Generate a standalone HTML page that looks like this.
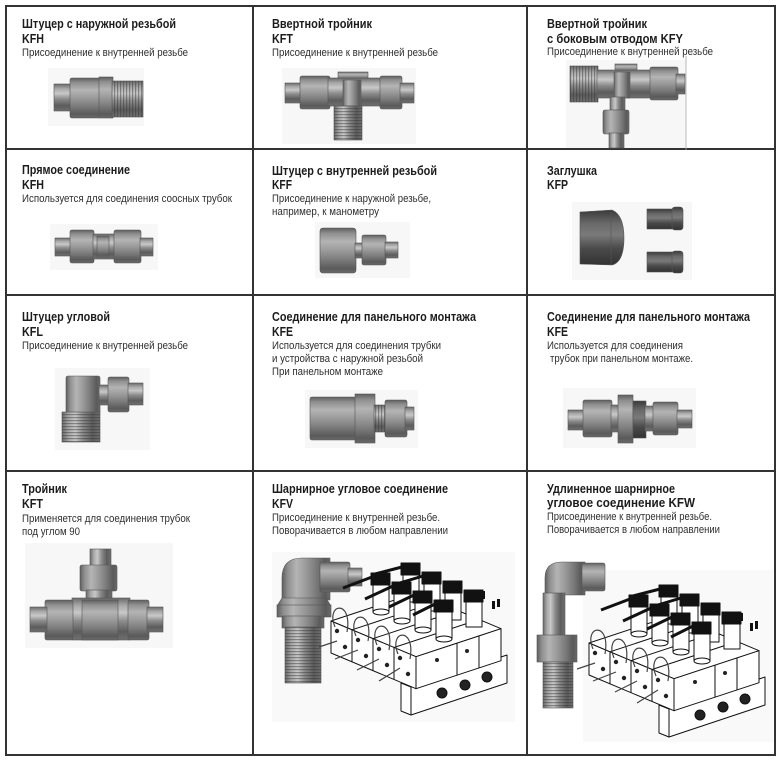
<!DOCTYPE html>
<html><head><meta charset="utf-8">
<style>
html,body{margin:0;padding:0;background:#fff}
svg{display:block}
.t{font-family:"Liberation Sans",sans-serif;font-weight:bold;font-size:12.5px;fill:#1c1c1c}
.d{font-family:"Liberation Sans",sans-serif;font-size:11px;fill:#2e2e2e}
</style></head>
<body>
<svg width="781" height="762" viewBox="0 0 781 762" xmlns="http://www.w3.org/2000/svg">
<defs>
<linearGradient id="gh" x1="0" y1="0" x2="0" y2="1">
<stop offset="0" stop-color="#6a6a6a"/><stop offset=".18" stop-color="#a9a9a9"/><stop offset=".35" stop-color="#c8c8c8"/><stop offset=".55" stop-color="#8c8c8c"/><stop offset=".8" stop-color="#5c5c5c"/><stop offset="1" stop-color="#707070"/>
</linearGradient>
<linearGradient id="gv" x1="0" y1="0" x2="1" y2="0">
<stop offset="0" stop-color="#6a6a6a"/><stop offset=".18" stop-color="#a9a9a9"/><stop offset=".35" stop-color="#c8c8c8"/><stop offset=".55" stop-color="#8c8c8c"/><stop offset=".8" stop-color="#5c5c5c"/><stop offset="1" stop-color="#707070"/>
</linearGradient>
<linearGradient id="gn" x1="0" y1="0" x2="0" y2="1">
<stop offset="0" stop-color="#5e5e5e"/><stop offset=".12" stop-color="#8f8f8f"/><stop offset=".3" stop-color="#b4b4b4"/><stop offset=".5" stop-color="#9a9a9a"/><stop offset=".7" stop-color="#7c7c7c"/><stop offset=".9" stop-color="#5a5a5a"/><stop offset="1" stop-color="#6a6a6a"/>
</linearGradient>
<linearGradient id="gnv" x1="0" y1="0" x2="1" y2="0">
<stop offset="0" stop-color="#5e5e5e"/><stop offset=".12" stop-color="#8f8f8f"/><stop offset=".3" stop-color="#b4b4b4"/><stop offset=".5" stop-color="#9a9a9a"/><stop offset=".7" stop-color="#7c7c7c"/><stop offset=".9" stop-color="#5a5a5a"/><stop offset="1" stop-color="#6a6a6a"/>
</linearGradient>
<linearGradient id="gd" x1="0" y1="0" x2="0" y2="1">
<stop offset="0" stop-color="#3a3a3a"/><stop offset=".25" stop-color="#6a6a6a"/><stop offset=".45" stop-color="#7a7a7a"/><stop offset=".7" stop-color="#4a4a4a"/><stop offset="1" stop-color="#333"/>
</linearGradient>
<pattern id="tv" width="3" height="60" patternUnits="userSpaceOnUse"><rect x="0" y="0" width="1.2" height="60" fill="#333" opacity=".45"/></pattern>
<pattern id="th" width="60" height="3" patternUnits="userSpaceOnUse"><rect x="0" y="0" width="60" height="1.2" fill="#333" opacity=".45"/></pattern>

<g id="man" stroke="#111" stroke-width="1" fill="#fff" stroke-linejoin="round">
  <polygon points="74,128 84,132 84,160 74,156"/>
  <polygon points="84,132 180,100 180,128 84,160"/>
  <circle cx="115" cy="138" r="5" fill="#222"/>
  <circle cx="138" cy="130" r="5" fill="#222"/>
  <circle cx="160" cy="122" r="5" fill="#222"/>
  <polygon points="4,66 89,101.7 174,73.7 89,38"/>
  <polygon points="4,66 89,101.7 89,133.7 4,98"/>
  <polygon points="89,101.7 174,73.7 174,105.7 89,133.7"/>
  <g fill="none">
    <line x1="25" y1="74.8" x2="25" y2="106.8"/>
    <line x1="46" y1="83.6" x2="46" y2="115.6"/>
    <line x1="67" y1="92.5" x2="67" y2="124.5"/>
    <line x1="25" y1="74.8" x2="110" y2="46.8"/>
    <line x1="46" y1="83.6" x2="131" y2="55.6"/>
    <line x1="67" y1="92.5" x2="152" y2="64.5"/>
    <line x1="130" y1="88" x2="130" y2="120"/>
    <line x1="152" y1="81" x2="152" y2="113"/>
  </g>
  <g fill="#222" stroke="none">
    <circle cx="10" cy="76" r="2.2"/><circle cx="18" cy="92" r="2.2"/>
    <circle cx="31" cy="85" r="2.2"/><circle cx="39" cy="101" r="2.2"/>
    <circle cx="52" cy="94" r="2.2"/><circle cx="60" cy="110" r="2.2"/>
    <circle cx="73" cy="103" r="2.2"/><circle cx="81" cy="119" r="2.2"/>
    <circle cx="110" cy="105" r="2"/><circle cx="140" cy="96" r="2"/>
  </g>
  <g fill="none" stroke="#444" stroke-width="1.2">
    <path d="M8,72 C-2,48 26,44 20,77"/>
    <path d="M29,81 C19,57 47,53 41,86"/>
    <path d="M50,90 C40,66 68,62 62,95"/>
    <path d="M71,99 C61,75 89,71 83,104"/>
    <path d="M10,86 L-8,92"/>
    <path d="M31,95 L8,104"/>
    <path d="M52,104 L30,115"/>
    <path d="M73,113 L52,126"/>
  </g>
  <g>
    <rect x="76" y="19" width="16" height="28"/><rect x="74" y="8" width="19" height="12" fill="#111"/>
    <rect x="97" y="28" width="16" height="28"/><rect x="95" y="17" width="19" height="12" fill="#111"/>
    <rect x="118" y="37" width="16" height="28"/><rect x="116" y="26" width="19" height="12" fill="#111"/>
    <rect x="139" y="46" width="16" height="26"/><rect x="137" y="35" width="19" height="12" fill="#111"/>
  </g>
  <g stroke="#111" stroke-width="3" fill="none">
    <line x1="75" y1="12" x2="44" y2="20"/>
    <line x1="96" y1="21" x2="66" y2="30"/>
  </g>
  <g>
    <rect x="46" y="29" width="16" height="28"/><rect x="44" y="18" width="19" height="12" fill="#111"/>
    <rect x="67" y="38" width="16" height="28"/><rect x="65" y="27" width="19" height="12" fill="#111"/>
    <rect x="88" y="47" width="16" height="28"/><rect x="86" y="36" width="19" height="12" fill="#111"/>
    <rect x="109" y="56" width="16" height="28"/><rect x="107" y="45" width="19" height="12" fill="#111"/>
    <ellipse cx="54" cy="57" rx="8" ry="3"/><ellipse cx="75" cy="66" rx="8" ry="3"/>
    <ellipse cx="96" cy="75" rx="8" ry="3"/><ellipse cx="117" cy="84" rx="8" ry="3"/>
  </g>
  <g stroke="#111" stroke-width="3" fill="none">
    <line x1="45" y1="22" x2="16" y2="33"/>
    <line x1="66" y1="31" x2="38" y2="44"/>
    <line x1="87" y1="40" x2="62" y2="52"/>
    <line x1="108" y1="49" x2="86" y2="60"/>
  </g>
  <g fill="#111" stroke="none">
    <rect x="150" y="38" width="3" height="8"/><rect x="155" y="36" width="3" height="8"/>
    <rect x="165" y="46" width="3" height="8"/><rect x="170" y="44" width="3" height="8"/>
  </g>
</g>
</defs>

<g fill="#f7f7f7">
<rect x="48" y="68" width="96" height="58"/>
<rect x="282" y="68" width="134" height="76"/>
<rect x="566" y="60" width="120" height="90"/>
<rect x="50" y="224" width="108" height="46"/>
<rect x="315" y="222" width="95" height="56"/>
<rect x="572" y="202" width="120" height="78"/>
<rect x="55" y="368" width="95" height="82"/>
<rect x="305" y="390" width="113" height="58"/>
<rect x="563" y="388" width="133" height="60"/>
<rect x="25" y="543" width="148" height="105"/>
<rect x="272" y="552" width="243" height="170" fill="#f9f9f9"/>
<rect x="583" y="570" width="190" height="172" fill="#f9f9f9"/>
</g>

<g stroke="#333" stroke-width="2" fill="none">
<rect x="6" y="6" width="769" height="749"/>
<line x1="253" y1="6" x2="253" y2="755"/>
<line x1="527" y1="6" x2="527" y2="755"/>
<line x1="6" y1="149" x2="775" y2="149"/>
<line x1="6" y1="295" x2="775" y2="295"/>
<line x1="6" y1="471" x2="775" y2="471"/>
</g>

<text class="t" x="22" y="28" textLength="154" lengthAdjust="spacingAndGlyphs">Штуцер с наружной резьбой</text>
<text class="t" x="22" y="43" textLength="22" lengthAdjust="spacingAndGlyphs">KFH</text>
<text class="d" x="22" y="56" textLength="166" lengthAdjust="spacingAndGlyphs">Присоединение к внутренней резьбе</text>

<text class="t" x="272" y="28" textLength="100" lengthAdjust="spacingAndGlyphs">Ввертной тройник</text>
<text class="t" x="272" y="43" textLength="21" lengthAdjust="spacingAndGlyphs">KFT</text>
<text class="d" x="272" y="56" textLength="166" lengthAdjust="spacingAndGlyphs">Присоединение к внутренней резьбе</text>

<text class="t" x="547" y="28" textLength="100" lengthAdjust="spacingAndGlyphs">Ввертной тройник</text>
<text class="t" x="547" y="43" textLength="136" lengthAdjust="spacingAndGlyphs">с боковым отводом KFY</text>
<text class="d" x="547" y="55" textLength="166" lengthAdjust="spacingAndGlyphs">Присоединение к внутренней резьбе</text>

<text class="t" x="22" y="174" textLength="108" lengthAdjust="spacingAndGlyphs">Прямое соединение</text>
<text class="t" x="22" y="189" textLength="22" lengthAdjust="spacingAndGlyphs">KFH</text>
<text class="d" x="22" y="202" textLength="210" lengthAdjust="spacingAndGlyphs">Используется для соединения соосных трубок</text>

<text class="t" x="272" y="175" textLength="165" lengthAdjust="spacingAndGlyphs">Штуцер с внутренней резьбой</text>
<text class="t" x="272" y="189" textLength="20" lengthAdjust="spacingAndGlyphs">KFF</text>
<text class="d" x="272" y="202" textLength="159" lengthAdjust="spacingAndGlyphs">Присоединение к наружной резьбе,</text>
<text class="d" x="272" y="215" textLength="107" lengthAdjust="spacingAndGlyphs">например, к манометру</text>

<text class="t" x="547" y="175" textLength="50" lengthAdjust="spacingAndGlyphs">Заглушка</text>
<text class="t" x="547" y="189" textLength="21" lengthAdjust="spacingAndGlyphs">KFP</text>

<text class="t" x="22" y="321" textLength="88" lengthAdjust="spacingAndGlyphs">Штуцер угловой</text>
<text class="t" x="22" y="336" textLength="21" lengthAdjust="spacingAndGlyphs">KFL</text>
<text class="d" x="22" y="349" textLength="166" lengthAdjust="spacingAndGlyphs">Присоединение к внутренней резьбе</text>

<text class="t" x="272" y="321" textLength="204" lengthAdjust="spacingAndGlyphs">Соединение для панельного монтажа</text>
<text class="t" x="272" y="336" textLength="21" lengthAdjust="spacingAndGlyphs">KFE</text>
<text class="d" x="272" y="349" textLength="169" lengthAdjust="spacingAndGlyphs">Используется для соединения трубки</text>
<text class="d" x="272" y="362" textLength="151" lengthAdjust="spacingAndGlyphs">и устройства с наружной резьбой</text>
<text class="d" x="272" y="375" textLength="111" lengthAdjust="spacingAndGlyphs">При панельном монтаже</text>

<text class="t" x="547" y="321" textLength="203" lengthAdjust="spacingAndGlyphs">Соединение для панельного монтажа</text>
<text class="t" x="547" y="336" textLength="21" lengthAdjust="spacingAndGlyphs">KFE</text>
<text class="d" x="547" y="349" textLength="136" lengthAdjust="spacingAndGlyphs">Используется для соединения</text>
<text class="d" x="550" y="362" textLength="143" lengthAdjust="spacingAndGlyphs">трубок при панельном монтаже.</text>

<text class="t" x="22" y="493" textLength="45" lengthAdjust="spacingAndGlyphs">Тройник</text>
<text class="t" x="22" y="508" textLength="21" lengthAdjust="spacingAndGlyphs">KFT</text>
<text class="d" x="22" y="522" textLength="168" lengthAdjust="spacingAndGlyphs">Применяется для соединения трубок</text>
<text class="d" x="22" y="535" textLength="58" lengthAdjust="spacingAndGlyphs">под углом 90</text>

<text class="t" x="272" y="493" textLength="176" lengthAdjust="spacingAndGlyphs">Шарнирное угловое соединение</text>
<text class="t" x="272" y="508" textLength="21" lengthAdjust="spacingAndGlyphs">KFV</text>
<text class="d" x="272" y="521" textLength="168" lengthAdjust="spacingAndGlyphs">Присоединение к внутренней резьбе.</text>
<text class="d" x="272" y="534" textLength="176" lengthAdjust="spacingAndGlyphs">Поворачивается в любом направлении</text>

<text class="t" x="547" y="493" textLength="128" lengthAdjust="spacingAndGlyphs">Удлиненное шарнирное</text>
<text class="t" x="547" y="507" textLength="148" lengthAdjust="spacingAndGlyphs">угловое соединение KFW</text>
<text class="d" x="547" y="520" textLength="165" lengthAdjust="spacingAndGlyphs">Присоединение к внутренней резьбе.</text>
<text class="d" x="547" y="533" textLength="173" lengthAdjust="spacingAndGlyphs">Поворачивается в любом направлении</text>

<g stroke="#555" stroke-width="0.6">
<rect x="54" y="84" width="18" height="27" fill="url(#gh)"/>
<rect x="70" y="78" width="30" height="40" rx="2" fill="url(#gn)"/>
<rect x="99" y="77" width="14" height="41" fill="url(#gn)"/>
<rect x="112" y="81" width="31" height="36" fill="url(#gh)"/>
<rect x="112" y="81" width="31" height="36" fill="url(#tv)" stroke="none"/>

<rect x="285" y="83" width="17" height="20" fill="url(#gh)"/>
<rect x="300" y="76" width="30" height="33" rx="2" fill="url(#gn)"/>
<rect x="338" y="72" width="30" height="8" fill="url(#gn)"/>
<rect x="328" y="78" width="54" height="28" fill="url(#gh)"/>
<rect x="343" y="80" width="18" height="26" fill="url(#gnv)"/>
<rect x="334" y="106" width="28" height="34" fill="url(#gv)"/>
<rect x="334" y="106" width="28" height="34" fill="url(#th)" stroke="none"/>
<rect x="380" y="76" width="22" height="33" rx="2" fill="url(#gn)"/>
<rect x="400" y="83" width="14" height="20" fill="url(#gh)"/>

<rect x="570" y="66" width="28" height="36" fill="url(#gh)"/>
<rect x="570" y="66" width="28" height="36" fill="url(#tv)" stroke="none"/>
<rect x="615" y="64" width="22" height="8" fill="url(#gn)"/>
<rect x="597" y="70" width="55" height="28" fill="url(#gh)"/>
<rect x="614" y="72" width="16" height="26" fill="url(#gnv)"/>
<rect x="650" y="67" width="28" height="33" rx="2" fill="url(#gn)"/>
<rect x="676" y="74" width="9" height="20" fill="url(#gh)"/>
<rect x="610" y="97" width="15" height="13" fill="url(#gv)"/>
<rect x="603" y="110" width="26" height="24" rx="2" fill="url(#gnv)"/>
<rect x="609" y="133" width="15" height="15" fill="url(#gv)"/>
</g>
<line x1="686" y1="56" x2="686" y2="150" stroke="#aaa" stroke-width="0.8"/>

<g stroke="#555" stroke-width="0.6">
<rect x="55" y="238" width="17" height="18" fill="url(#gh)"/>
<rect x="70" y="230" width="24" height="33" rx="2" fill="url(#gn)"/>
<rect x="93" y="234" width="24" height="25" fill="url(#gh)"/>
<rect x="97" y="236" width="12" height="21" fill="url(#gn)"/>
<rect x="114" y="230" width="27" height="33" rx="2" fill="url(#gn)"/>
<rect x="140" y="238" width="13" height="18" fill="url(#gh)"/>

<rect x="320" y="228" width="36" height="45" rx="3" fill="url(#gn)"/>
<rect x="355" y="243" width="8" height="15" fill="url(#gh)"/>
<rect x="362" y="235" width="24" height="30" rx="2" fill="url(#gn)"/>
<rect x="385" y="242" width="13" height="16" fill="url(#gh)"/>

<path d="M580,212 L612,210 Q624,215 624,238 Q624,262 612,265 L580,264 Z" fill="url(#gd)"/>
<line x1="611" y1="211" x2="611" y2="265"/>
<rect x="647" y="209" width="27" height="20" fill="url(#gd)"/>
<rect x="672" y="207" width="11" height="23" rx="3" fill="url(#gd)"/>
<rect x="647" y="252" width="27" height="20" fill="url(#gd)"/>
<rect x="672" y="251" width="11" height="22" rx="3" fill="url(#gd)"/>

<rect x="66" y="376" width="34" height="38" rx="2" fill="url(#gnv)"/>
<rect x="62" y="412" width="38" height="30" fill="url(#gv)"/>
<rect x="62" y="412" width="38" height="30" fill="url(#th)" stroke="none"/>
<rect x="99" y="385" width="10" height="20" fill="url(#gh)"/>
<rect x="108" y="377" width="21" height="35" rx="2" fill="url(#gn)"/>
<rect x="128" y="383" width="15" height="22" fill="url(#gh)"/>

<rect x="310" y="397" width="46" height="43" rx="2" fill="url(#gn)"/>
<rect x="355" y="394" width="20" height="49" fill="url(#gn)"/>
<rect x="374" y="405" width="12" height="27" fill="url(#gh)"/>
<rect x="374" y="405" width="12" height="27" fill="url(#tv)" stroke="none"/>
<rect x="385" y="400" width="22" height="37" rx="2" fill="url(#gn)"/>
<rect x="405" y="407" width="9" height="23" fill="url(#gh)"/>

<rect x="568" y="410" width="17" height="20" fill="url(#gh)"/>
<rect x="583" y="400" width="29" height="37" rx="2" fill="url(#gn)"/>
<rect x="611" y="405" width="8" height="27" fill="url(#gh)"/>
<rect x="618" y="395" width="15" height="48" fill="url(#gn)"/>
<rect x="633" y="401" width="13" height="37" fill="url(#gd)"/>
<rect x="645" y="406" width="9" height="25" fill="url(#gh)"/>
<rect x="653" y="402" width="25" height="33" rx="2" fill="url(#gn)"/>
<rect x="677" y="410" width="15" height="18" fill="url(#gh)"/>

<rect x="90" y="549" width="21" height="17" fill="url(#gv)"/>
<rect x="80" y="565" width="37" height="26" rx="2" fill="url(#gnv)"/>
<rect x="86" y="590" width="26" height="10" fill="url(#gv)"/>
<rect x="72" y="598" width="58" height="42" fill="url(#gh)"/>
<rect x="82" y="600" width="36" height="40" fill="url(#gn)"/>
<rect x="45" y="600" width="28" height="40" rx="2" fill="url(#gn)"/>
<rect x="30" y="607" width="17" height="25" fill="url(#gh)"/>
<rect x="128" y="600" width="21" height="40" rx="2" fill="url(#gn)"/>
<rect x="147" y="607" width="16" height="25" fill="url(#gh)"/>

<path d="M282,578 Q282,558 302,558 L330,558 L330,600 L282,600 Z" fill="url(#gnv)"/>
<rect x="320" y="562" width="30" height="30" rx="2" fill="url(#gn)"/>
<rect x="348" y="568" width="14" height="18" fill="url(#gh)"/>
<path d="M282,598 L326,598 L331,606 L277,606 Z" fill="url(#gnv)"/>
<rect x="277" y="605" width="54" height="12" fill="url(#gnv)"/>
<rect x="282" y="616" width="42" height="12" fill="url(#gnv)"/>
<rect x="285" y="627" width="36" height="56" fill="url(#gv)"/>
<rect x="285" y="627" width="36" height="56" fill="url(#th)" stroke="none"/>

<path d="M545,578 Q545,562 562,562 L585,562 L585,595 L545,595 Z" fill="url(#gnv)"/>
<rect x="582" y="563" width="23" height="28" rx="2" fill="url(#gn)"/>
<rect x="543" y="593" width="22" height="45" fill="url(#gv)"/>
<rect x="537" y="635" width="40" height="27" fill="url(#gnv)"/>
<rect x="543" y="662" width="30" height="46" fill="url(#gv)"/>
<rect x="543" y="662" width="30" height="46" fill="url(#th)" stroke="none"/>
</g>

<use href="#man" transform="translate(327,555)"/>
<use href="#man" transform="translate(585,577)"/>
</svg>
</body></html>
